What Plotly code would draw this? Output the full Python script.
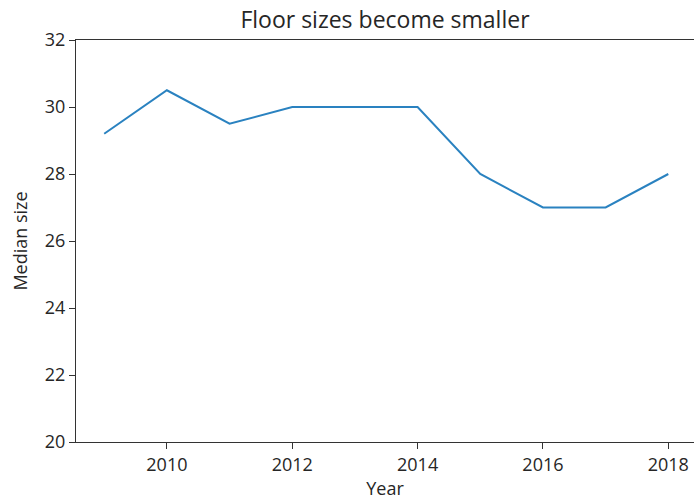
import plotly.graph_objects as go

years = [2009, 2010, 2011, 2012, 2013, 2014, 2015, 2016, 2017, 2018]
median_size = [29.2, 30.5, 29.5, 30.0, 30.0, 30.0, 28.0, 27.0, 27.0, 28.0]
x_ticks = [2010, 2012, 2014, 2016, 2018]
y_ticks = [20, 22, 24, 26, 28, 30, 32]

fig = go.Figure()
fig.add_trace(go.Scatter(x=years, y=median_size, mode="lines",
                         line=dict(color="#2a82c0", width=2)))

font = "Open Sans"
fig.update_layout(
    width=694, height=502,
    margin=dict(l=76, r=0, t=40, b=60),
    paper_bgcolor="white", plot_bgcolor="white",
    showlegend=False,
    font=dict(family=font, size=18, color="#262626"),
    title=dict(text="Floor sizes become smaller", x=0.5, xref="paper", xanchor="center",
               y=1 - 20/502, yanchor="middle", font=dict(family=font, size=23, color="#262626")),
    xaxis=dict(range=[2008.55, 2018.41], tickvals=x_ticks, ticktext=[str(t) for t in x_ticks],
               showgrid=False, zeroline=False, showline=True, linecolor="#333", linewidth=1.2,
               mirror=True, ticks="outside", ticklen=6, tickcolor="#333",
               tickfont=dict(size=18),
               title=dict(text="Year", standoff=2, font=dict(size=18))),
    yaxis=dict(range=[20, 32], tickvals=y_ticks, ticktext=[str(t) for t in y_ticks],
               showgrid=False, zeroline=False, showline=True, linecolor="#333", linewidth=1.2,
               ticks="outside", ticklen=6, tickcolor="#333",
               tickfont=dict(size=18),
               title=dict(text="Median size", standoff=12, font=dict(size=18))),
)

fig.write_html("out.html", config={"displayModeBar": False},
               post_script="document.body.style.margin='0';")
